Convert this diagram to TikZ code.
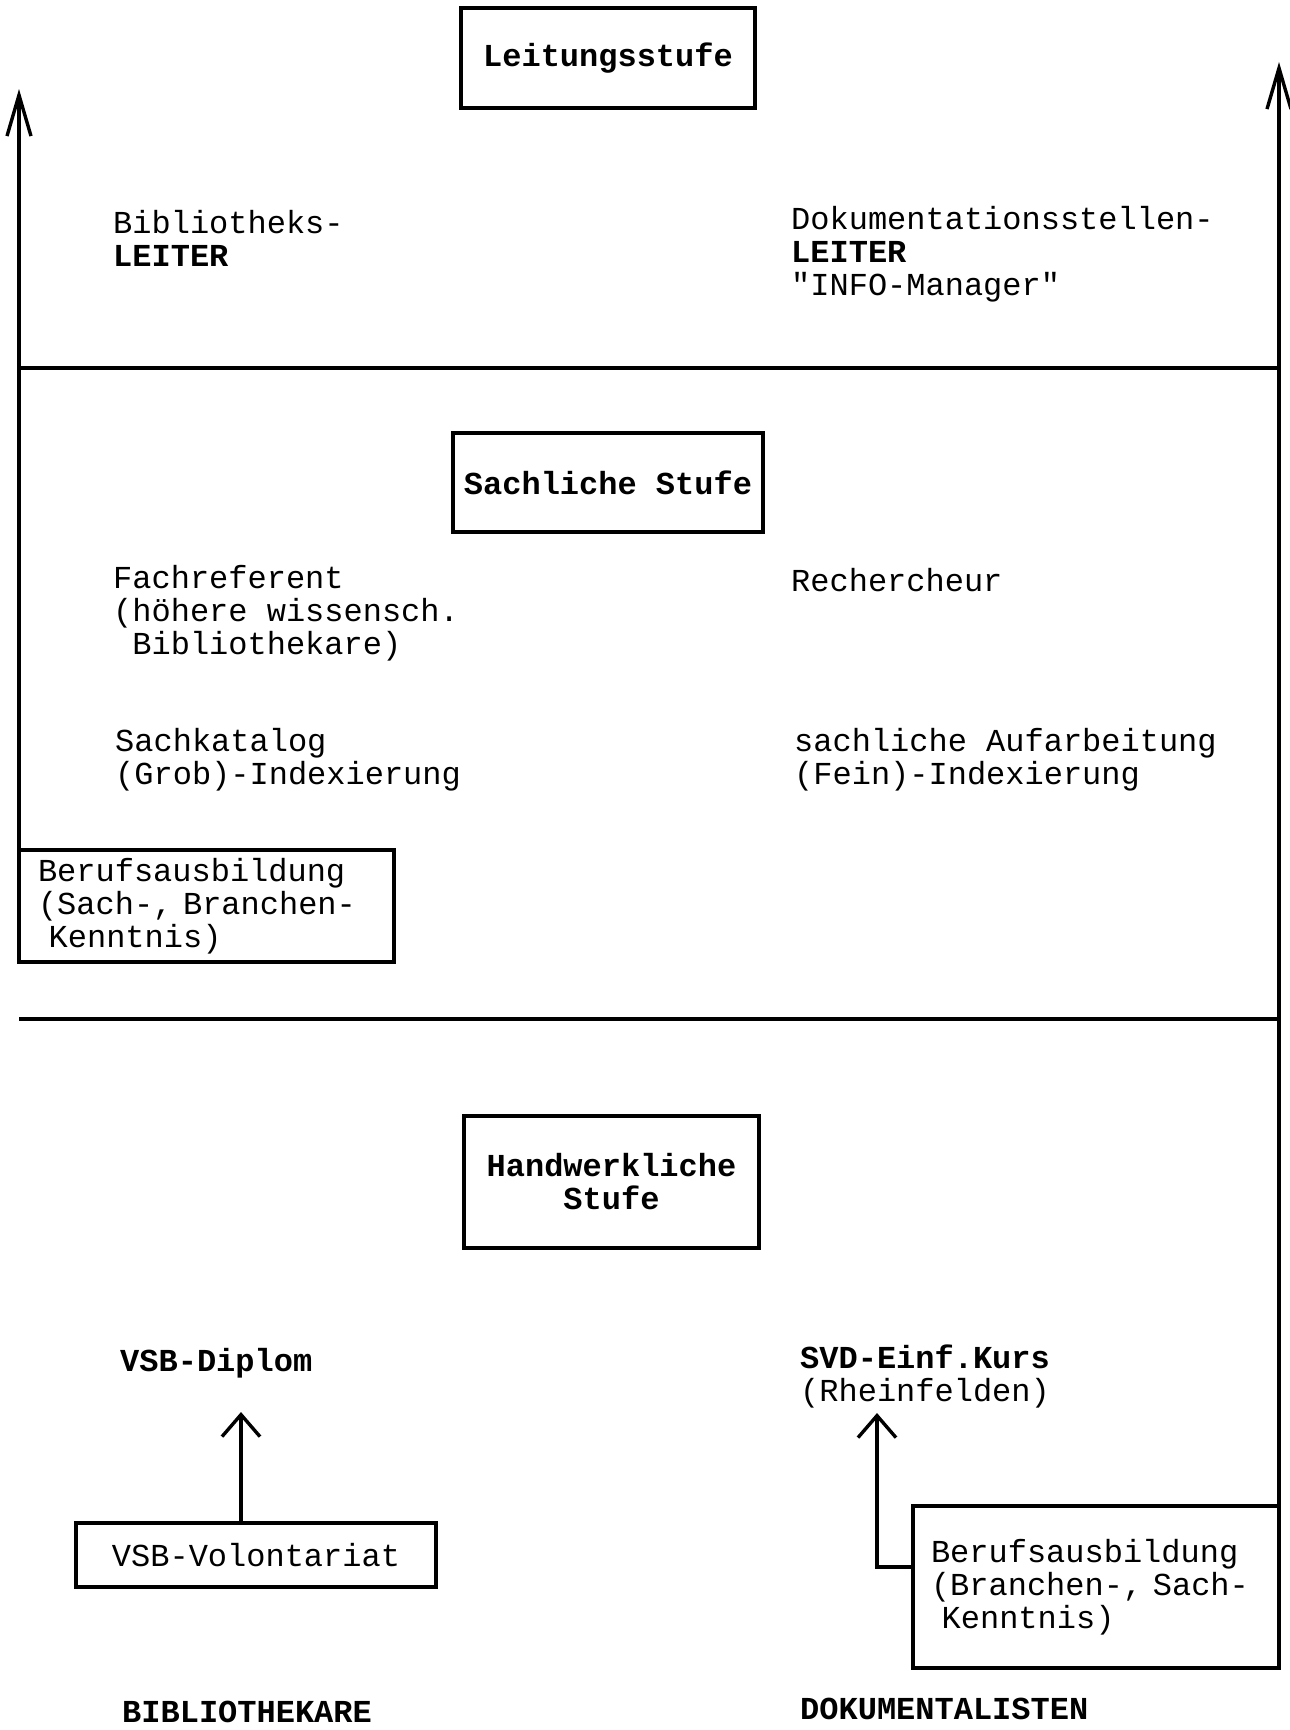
\documentclass[tikz,border=0pt]{standalone}
\usepackage{fontspec}
\setmonofont{Liberation Mono}
\usetikzlibrary{arrows.meta}

\begin{document}
\begin{tikzpicture}[x=1pt,y=-1pt,
        every node/.style={font=\ttfamily\fontsize{32}{33}\selectfont},
        txt/.style={anchor=west,inner sep=0pt,align=left},
        fett/.style={font=\ttfamily\bfseries\fontsize{32}{33}\selectfont},
        kasten/.style={draw,line width=3.4pt,outer sep=0pt,inner sep=0pt},
        hoch/.style={line width=3.4pt,-{Straight Barb[length=41pt,width=24pt]}},
        kurz/.style={line width=3.4pt,-{Straight Barb[length=22pt,width=38pt]}},
        linie/.style={line width=3.4pt}]
    \useasboundingbox (0,0) rectangle (1290,1730);

    \node[kasten,fett,minimum width=294pt,minimum height=100pt] (leit) at (608,58) {Leitungsstufe};
    \node[txt] (bibleit) at (113,238) {Bibliotheks-\\\textbf{LEITER}};
    \node[txt] (dokleit) at (791,254) {Dokumentationsstellen-\\\textbf{LEITER}\\"INFO-Manager"};

    \node[kasten,fett,minimum width=310pt,minimum height=99pt] (sachst) at (608,482.5) {Sachliche Stufe};
    \node[txt] (fachref) at (113,613) {Fachreferent\\(höhere wissensch.\\~Bibliothekare)};
    \node[txt] (recher) at (791,580) {Rechercheur};
    \node[txt] (sachkat) at (115,760) {Sachkatalog\\(Grob)-Indexierung};
    \node[txt] (aufarb) at (794,760) {sachliche Aufarbeitung\\(Fein)-Indexierung};
    \node[kasten,align=left,inner xsep=19pt,text width=337pt,minimum height=112pt] (berufl) at (206.5,906)
        {Berufsausbildung\\(Sach-, Branchen-\\~Kenntnis)};

    \node[kasten,fett,align=center,minimum width=295pt,minimum height=132pt] (handst) at (611.5,1182) {Handwerkliche\\Stufe};
    \node[txt,fett] (vsbdipl) at (120,1363) {VSB-Diplom};
    \node[kasten,minimum width=360pt,minimum height=64pt] (vsbvol) at (256,1555) {VSB-Volontariat};
    \node[txt] (svdkurs) at (800,1376) {\textbf{SVD-Einf.Kurs}\\(Rheinfelden)};
    \node[kasten,align=left,inner xsep=18pt,text width=330pt,minimum height=162pt] (berufr) at (1096,1587)
        {Berufsausbildung\\(Branchen-, Sach-\\~Kenntnis)};

    \node[fett,anchor=base west,inner sep=0pt] (bibl) at (122,1722) {BIBLIOTHEKARE};
    \node[fett,anchor=base west,inner sep=0pt] (doku) at (800,1719) {DOKUMENTALISTEN};

    \coordinate (ltip) at (0,89);
    \coordinate (rtip) at (0,62);
    \coordinate (t1) at (0,368);
    \coordinate (t2) at (0,1019);
    \coordinate (dtip) at (241,1412);
    \coordinate (ktip) at (877,1413);

    \draw[hoch] (berufl.north west) -- (berufl.north west |- ltip);
    \draw[hoch] (berufr.north east) -- (berufr.north east |- rtip);
    \draw[linie] (berufl.west |- t1) -- (berufr.east |- t1);
    \draw[linie] (berufl.west |- t2) -- (berufr.east |- t2);
    \draw[kurz] (vsbvol.north -| dtip) -- (dtip);
    \draw[kurz] ([yshift=20pt]berufr.west) -| (ktip);
\end{tikzpicture}
\end{document}
